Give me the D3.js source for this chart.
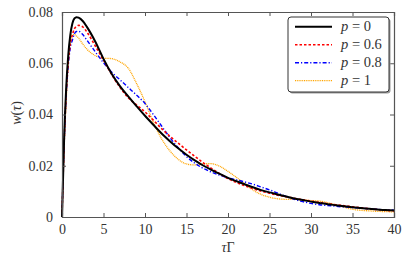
<!DOCTYPE html>
<html><head><meta charset="utf-8">
<script src="https://cdn.jsdelivr.net/npm/d3@7"></script>
<style>
html,body{margin:0;padding:0;background:#fff;}
svg{display:block;}
svg text{font-family:'Liberation Serif',serif;}
</style></head>
<body><svg id="c" width="415" height="258"></svg>
<script>
const tValues = [0,0.25,0.5,0.75,1,1.25,1.5,1.75,2,2.5,3,4,5,6,7,8,9,10,11,12,13,14,15,16,17,18,19,20,21,22,23,24,25,26,27,28,29,30,31,32,33,34,35,36,37,38,39,40];
const wP0   = [0,0.030,0.050,0.063,0.071,0.0755,0.0775,0.078,0.0778,0.0765,0.0742,0.0685,0.0617,0.0558,0.051,0.047,0.0432,0.0395,0.036,0.0326,0.0296,0.0268,0.0243,0.0221,0.0201,0.0184,0.0168,0.0153,0.014,0.0128,0.0116,0.0105,0.0096,0.0088,0.008,0.0072,0.0066,0.006,0.0055,0.005,0.0046,0.0042,0.0038,0.0035,0.0032,0.0029,0.0027,0.0025];
const wP06  = [0,0.028,0.048,0.060,0.0675,0.071,0.0735,0.0744,0.0748,0.0742,0.0722,0.0668,0.0612,0.0555,0.0505,0.0465,0.0437,0.041,0.0378,0.0345,0.0315,0.0288,0.0262,0.0237,0.0212,0.019,0.0169,0.015,0.0135,0.0122,0.0111,0.0101,0.0093,0.0085,0.0079,0.0073,0.0067,0.0062,0.0057,0.0052,0.0048,0.0044,0.004,0.0036,0.0032,0.0029,0.0026,0.0024];
const wP08  = [0,0.028,0.047,0.059,0.066,0.069,0.0715,0.0724,0.0725,0.0712,0.069,0.0645,0.0602,0.0565,0.0535,0.0505,0.0475,0.0443,0.04,0.0355,0.031,0.027,0.0236,0.021,0.019,0.0175,0.0163,0.0153,0.0145,0.0137,0.0128,0.0117,0.0106,0.0093,0.008,0.0069,0.006,0.0053,0.0048,0.0045,0.0042,0.0039,0.0037,0.0035,0.0032,0.003,0.0028,0.0027];
const wP1   = [0,0.027,0.045,0.060,0.068,0.0712,0.0712,0.0706,0.0698,0.0675,0.0655,0.063,0.062,0.0618,0.0605,0.058,0.052,0.045,0.037,0.0305,0.0258,0.0225,0.0207,0.0203,0.0207,0.0208,0.0198,0.0178,0.0155,0.013,0.0105,0.0088,0.0077,0.0071,0.0069,0.0069,0.0067,0.0064,0.0062,0.0056,0.0047,0.0038,0.003,0.0026,0.0024,0.0022,0.0021,0.002];
const xTicks = [0,5,10,15,20,25,30,35,40];
const yTicks = [0,0.02,0.04,0.06,0.08];
const yTickLabels = ["0","0.02","0.04","0.06","0.08"];
const legendLabels = ["0","0.6","0.8","1"];

const svg = d3.select("#c");
const x = d3.scaleLinear().domain([0,40]).range([62,394]);
const y = d3.scaleLinear().domain([0,0.08]).range([217,12]);
const axisColor = "#555";
const serif = "font-family:'Liberation Serif',serif";

const series = [
  {vals:wP0, color:"#000", width:2, dash:null},
  {vals:wP06, color:"#ff0000", width:1.6, dash:"2.5,2"},
  {vals:wP08, color:"#0000ff", width:1.4, dash:"4,2,1.2,2"},
  {vals:wP1, color:"#ffa500", width:1.3, dash:"1,0.8"}
];
const line = d3.line().x((d,i)=>x(tValues[i])).y(d=>y(d)).curve(d3.curveMonotoneX);
const g = svg.append("g");
series.slice().reverse().forEach(s=>{
  g.append("path").attr("d",line(s.vals)).attr("fill","none")
   .attr("stroke",s.color).attr("stroke-width",s.width)
   .attr("stroke-dasharray",s.dash);
});

const ax = svg.append("g");
ax.append("g").attr("transform","translate(0,217)")
  .call(d3.axisBottom(x).tickValues(xTicks).tickSize(-4).tickPadding(7).tickFormat(d3.format("d")));
ax.append("g").attr("transform","translate(0,12)")
  .call(d3.axisTop(x).tickValues(xTicks).tickSize(-4).tickFormat(""));
ax.append("g").attr("transform","translate(62,0)")
  .call(d3.axisLeft(y).tickValues(yTicks).tickSize(-4).tickPadding(9).tickFormat((d,i)=>yTickLabels[i]));
ax.append("g").attr("transform","translate(394,0)")
  .call(d3.axisRight(y).tickValues(yTicks).tickSize(-4).tickFormat(""));
ax.selectAll(".domain").attr("stroke",axisColor).attr("stroke-width",1.2);
ax.selectAll(".tick line").attr("stroke",axisColor);
ax.selectAll(".tick text").attr("style",serif).attr("font-size",14).attr("fill","#333");

const xl = svg.append("text").attr("style",serif).attr("x",228).attr("y",252).attr("text-anchor","middle").attr("font-size",14).attr("fill","#333");
xl.append("tspan").attr("font-style","italic").text("τ");
xl.append("tspan").text("Γ");
const yl = svg.append("text").attr("style",serif).attr("transform","translate(21,113) rotate(-90)").attr("text-anchor","middle").attr("font-size",14).attr("fill","#333");
yl.append("tspan").attr("font-style","italic").text("w");
yl.append("tspan").text("(");
yl.append("tspan").attr("font-style","italic").text("τ");
yl.append("tspan").text(")");

const lg = svg.append("g");
lg.append("rect").attr("x",289.5).attr("y",18.5).attr("width",101).attr("height",75).attr("rx",3)
  .attr("fill","#999");
lg.append("rect").attr("x",288).attr("y",17).attr("width",101).attr("height",75).attr("rx",3)
  .attr("fill","#fff").attr("stroke","#333").attr("stroke-width",1);
series.forEach((s,i)=>{
  const yy = 26.7 + i*18;
  lg.append("line").attr("x1",295).attr("x2",332).attr("y1",yy).attr("y2",yy)
    .attr("stroke",s.color).attr("stroke-width",s.width).attr("stroke-dasharray",s.dash);
  const t = lg.append("text").attr("style",serif).attr("x",341).attr("y",yy+4.5).attr("font-size",14.5).attr("fill","#333");
  t.append("tspan").attr("font-style","italic").text("p");
  t.append("tspan").text(" = " + legendLabels[i]);
});
</script></body></html>
